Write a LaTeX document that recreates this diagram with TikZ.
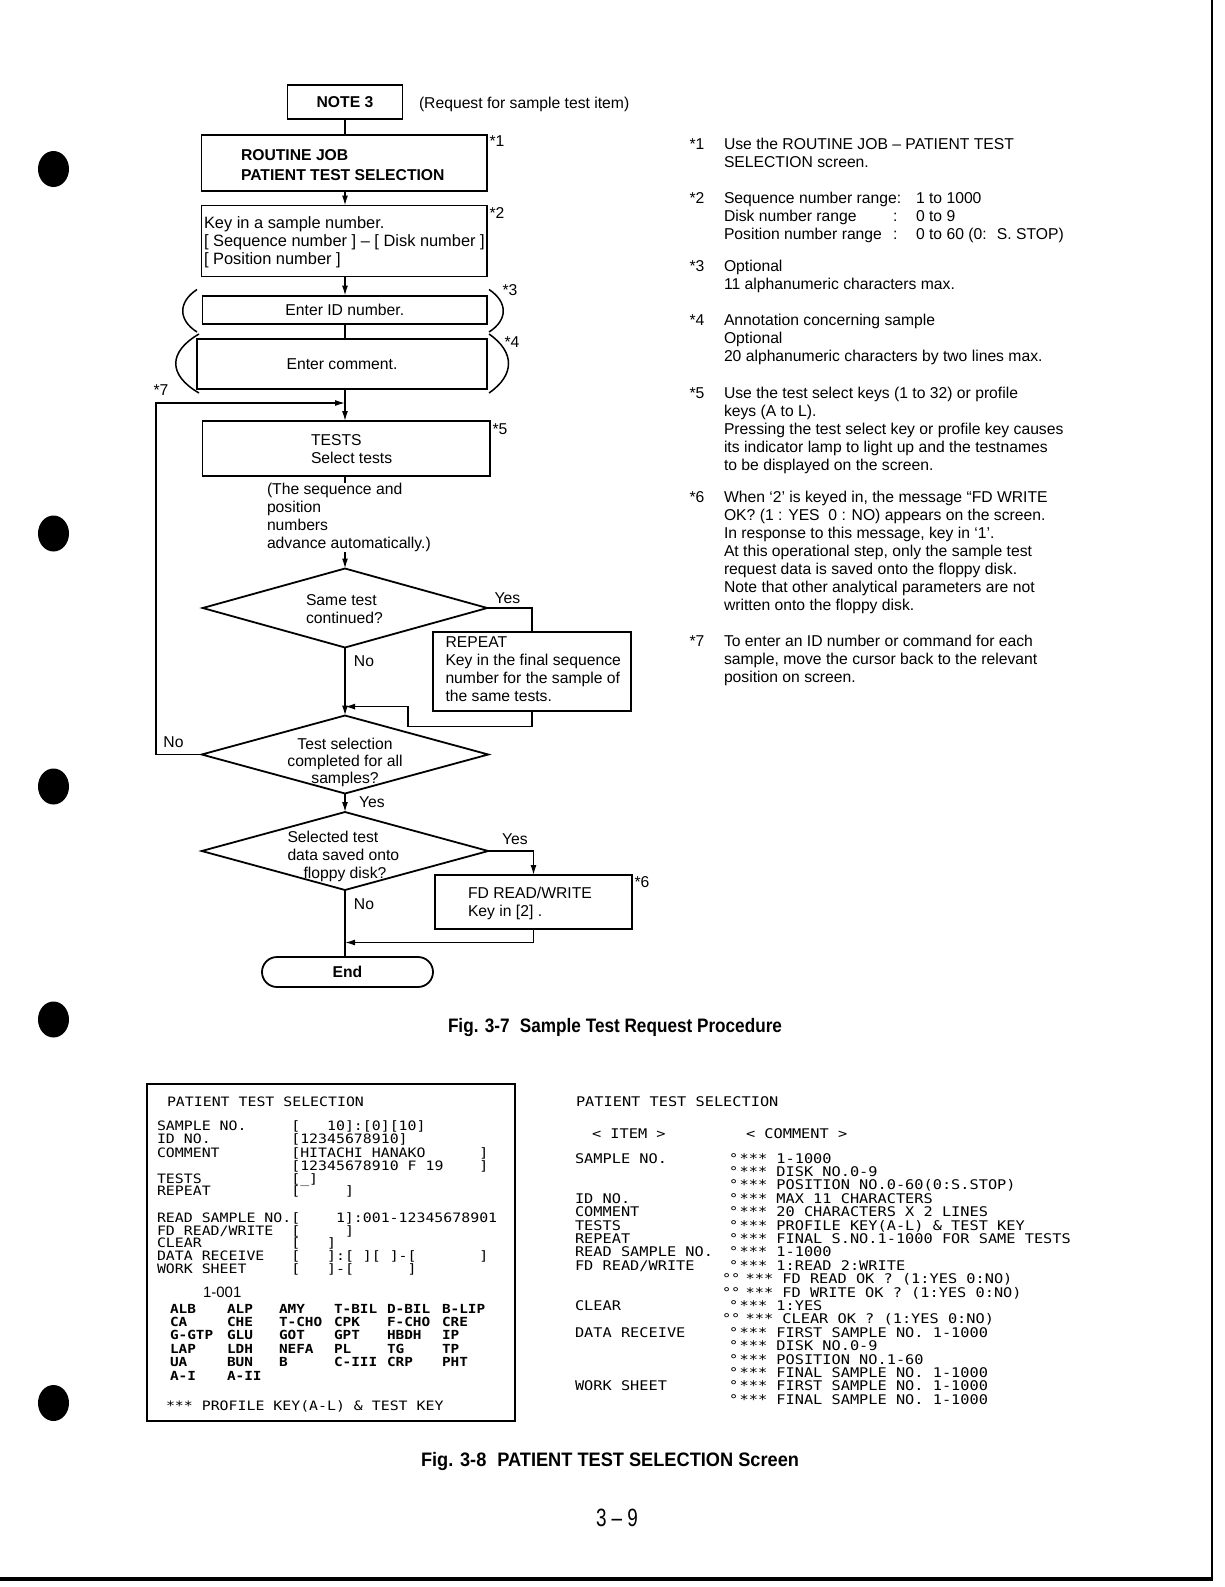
\documentclass[tikz,border=0pt]{standalone}
\usepackage{fontspec}
\usepackage{graphicx}
\setmainfont{Liberation Sans}
\newfontfamily\scrfont[FakeStretch=1.15]{DejaVu Sans Mono}
\usetikzlibrary{shapes.geometric,arrows.meta}
\newcommand\fst{\rule{0pt}{12pt}}
\begin{document}
\begin{tikzpicture}[x=1pt,y=-1pt,
  every node/.style={inner sep=0pt, outer sep=0pt},
  box/.style={draw, line width=1.8pt, rectangle},
  dia/.style={draw, line width=1.8pt, diamond},
  flow/.style={line width=1.4pt},
  arr/.style={line width=1.4pt, -{Latex[length=10pt,width=6pt]}},
  ft/.style={font=\fontsize{15.7}{18}\selectfont},
  bft/.style={font=\bfseries\fontsize{15.7}{20}\selectfont},
  tl/.style={ft, anchor=base west},
  ml/.style={ft, anchor=north west, align=left},
  lscr/.style={font=\scrfont\fontsize{12.93}{13}\selectfont, anchor=base west},
  rscr/.style={font=\scrfont\fontsize{13.29}{13}\selectfont, anchor=base west},
  gscr/.style={font=\scrfont\bfseries\fontsize{12.5}{13}\selectfont, anchor=base west},
  paren/.style={line width=1.5pt},
  capt/.style={font=\bfseries\fontsize{19.5}{21}\selectfont},
]
\useasboundingbox (0,0) rectangle (1224,1587);
\fill[white] (0,0) rectangle (1224,1587);

% ---------- page marks ----------
\fill (53.5,169) ellipse [x radius=15.5pt, y radius=18pt];
\fill (53.5,533.5) ellipse [x radius=15.5pt, y radius=18pt];
\fill (53.5,786.5) ellipse [x radius=15.5pt, y radius=18pt];
\fill (53.5,1019.5) ellipse [x radius=15.5pt, y radius=18pt];
\fill (53.5,1403) ellipse [x radius=15.5pt, y radius=18pt];
\draw[line width=2pt] (1212,0) -- (1212,1579);
\draw[line width=3.5pt] (0,1579) -- (1213,1579);

% ---------- flowchart ----------
\coordinate (tk) at (345,0);
\coordinate (j0) at (345,403);
\coordinate (lp) at (156,403);
\coordinate (j1) at (345,706.6);
\coordinate (j2) at (345,942.5);

\node[box, bft, minimum width=115pt, minimum height=34pt] (note) at (345,102) {NOTE 3};
\node[tl] (req) at (419,108.5) {(Request for sample test item)};

\node[box, minimum width=285.5pt, minimum height=56.7pt] (routine) at (344.3,163) {};
\node[bft, anchor=north west, align=left] (routinet) at (241,148.7) {\fst ROUTINE JOB\\PATIENT TEST SELECTION};

\node[box, minimum width=285.5pt, minimum height=71pt] (key) at (344.3,241) {};
\node[ml, font=\fontsize{16.4}{18}\selectfont] (keyt) at (204,216.5) {\fst Key in a sample number.\\{}[ Sequence number ] – [ Disk number ]\\{}[ Position number ]};

\node[box, ft, minimum width=284.5pt, minimum height=28.4pt] (id) at (344.8,309.8) {Enter ID number.};
\node[box, ft, minimum width=290pt, minimum height=50pt] (com) at (342,364) {Enter comment.};

\node[box, minimum width=287.5pt, minimum height=55pt] (tests) at (346.3,448.5) {};
\node[ml] (testst) at (311,433.5) {\fst TESTS\\Select tests};

\node[dia, minimum width=284.5pt, minimum height=79pt] (d1) at (345,608) {};
\node[dia, minimum width=286.5pt, minimum height=78pt] (d2) at (345,754.5) {};
\node[dia, minimum width=286.5pt, minimum height=78pt] (d3) at (345,851) {};

\node[box, minimum width=198pt, minimum height=79pt] (rep) at (532,671.5) {};
\node[box, minimum width=197pt, minimum height=54pt] (fd) at (533.5,902) {};
\node[draw, line width=1.8pt, rounded corners=15pt, minimum width=171pt, minimum height=30pt, bft] (end) at (347.5,972) {End};

% connectors
\draw[flow] (note.south) -- (note.south |- routine.north);
\draw[arr] (routine.south -| tk) -- (key.north -| tk);
\draw[arr] (key.south -| tk) -- (id.north -| tk);
\draw[flow] (id.south -| tk) -- (com.north -| tk);
\draw[arr] (com.south -| tk) -- (tests.north -| tk);
\draw[arr] (d2.west) -- (d2.west -| lp) -- (lp) -- (j0);
\draw[arr] (tests.south -| tk) -- (d1.north);
\draw[flow] (d1.east) -- (d1.east -| rep.north) -- (rep.north);
\draw[arr] (rep.south) -- ++(0,15.5) -- ++(-124,0) |- (j1);
\draw[arr] (d1.south) -- (d2.north);
\draw[arr] (d2.south) -- (d3.north);
\draw[arr] (d3.east) -- (d3.east -| fd.north) -- (fd.north);
\draw[flow] (d3.south) -- (d3.south |- end.north);
\draw[arr] (fd.south) |- (j2);

% texts over connectors
\node[ml, fill=white] (seqt) at (267,482.5) {\fst (The sequence and\\position\\numbers\\advance automatically.)};
\node[ml] (d1t) at (306,593.5) {\fst Same test\\continued?};
\node[ft, anchor=north, align=center, font=\fontsize{15.7}{17}\selectfont] (d2t) at (345,737.5) {\fst Test selection\\completed for all\\samples?};
\node[ml] (d3t) at (287.5,830.5) {\fst Selected test\\data saved onto\\\hspace*{16pt}floppy disk?};
\node[ml] (rept) at (445.5,635.5) {\fst REPEAT\\Key in the final sequence\\number for the sample of\\the same tests.};
\node[ml] (fdt) at (468,886.5) {\fst FD READ/WRITE\\Key in [2] .};

% parentheses
\draw[paren] (197,289.5) .. controls (178,302) and (178,320) .. (197,332);
\draw[paren] (489,289.5) .. controls (508,302) and (508,320) .. (489,332);
\draw[paren] (199,334) .. controls (168,352) and (168,375) .. (199,393);
\draw[paren] (489,334) .. controls (515,352) and (515,375) .. (489,393);

% star labels
\node[ft] (st1) at (497,141) {*1};
\node[ft] (st2) at (497,213) {*2};
\node[ft] (st3) at (510,290.5) {*3};
\node[ft] (st4) at (512,342) {*4};
\node[ft] (st5) at (500,429) {*5};
\node[ft] (st6) at (642,882) {*6};
\node[ft] (st7) at (161,390) {*7};

% yes / no
\node[ft] (y1) at (507.5,598) {Yes};
\node[ft] (n1) at (364,661) {No};
\node[ft] (n2) at (173.5,742) {No};
\node[ft] (y2) at (372,802) {Yes};
\node[ft] (y3) at (515,839) {Yes};
\node[ft] (n3) at (364,904) {No};

% ---------- notes ----------
\node[tl] (ns1) at (689.5,149.3) {*1};
\node[ml] (nt1) at (724,137.3) {\fst Use the ROUTINE JOB – PATIENT TEST\\SELECTION screen.};
\node[tl] (ns2) at (689.5,203.9) {*2};
\node[ml] (nt2a) at (724,191.9) {\fst Sequence number range:\\Disk number range\\Position number range};
\node[ml] (nt2b) at (893,191.9) {\fst\\:\\:};
\node[ml] (nt2c) at (916,191.9) {\fst 1 to 1000\\0 to 9\\0 to 60 (0:~ S. STOP)};
\node[tl] (ns3) at (689.5,271.8) {*3};
\node[ml] (nt3) at (724,259.8) {\fst Optional\\11 alphanumeric characters max.};
\node[tl] (ns4) at (689.5,325.4) {*4};
\node[ml] (nt4) at (724,313.4) {\fst Annotation concerning sample\\Optional\\20 alphanumeric characters by two lines max.};
\node[tl] (ns5) at (689.5,398.3) {*5};
\node[ml] (nt5) at (724,386.3) {\fst Use the test select keys (1 to 32) or profile\\keys (A to L).\\Pressing the test select key or profile key causes\\its indicator lamp to light up and the testnames\\to be displayed on the screen.};
\node[tl] (ns6) at (689.5,502.5) {*6};
\node[ml] (nt6) at (724,490.5) {\fst When ‘2’ is keyed in, the message “FD WRITE\\OK? (1 : YES~ 0 : NO) appears on the screen.\\In response to this message, key in ‘1’.\\At this operational step, only the sample test\\request data is saved onto the floppy disk.\\Note that other analytical parameters are not\\written onto the floppy disk.};
\node[tl] (ns7) at (689.5,646.3) {*7};
\node[ml] (nt7) at (724,634.3) {\fst To enter an ID number or command for each\\sample, move the cursor back to the relevant\\position on screen.};

% ---------- captions ----------
\node[capt] (cap1) at (615,1027) {\resizebox{334pt}{\height}{Fig. 3-7\hspace{0.6em}Sample Test Request Procedure}};
\node[capt] (cap2) at (610,1461) {\resizebox{378pt}{\height}{Fig. 3-8\hspace{0.6em}PATIENT TEST SELECTION Screen}};
\node[font=\fontsize{25}{26}\selectfont] (pg) at (617,1518) {\resizebox{42pt}{\height}{3 – 9}};

% ---------- left screen ----------
\node[draw, line width=1.6pt, minimum width=368pt, minimum height=337pt] (lbox) at (331,1252.5) {};
\node[lscr] (l0) at (167,1106) {PATIENT TEST SELECTION};
\node[lscr] (l1a) at (157,1130) {SAMPLE NO.};
\node[lscr] (l1b) at (291.3,1130) {[~~~10]:[0][10]};
\node[lscr] (l2a) at (157,1143) {ID NO.};
\node[lscr] (l2b) at (291.3,1143) {[12345678910]};
\node[lscr] (l3a) at (157,1157) {COMMENT};
\node[lscr] (l3b) at (291.3,1157) {[HITACHI HANAKO~~~~~~]};
\node[lscr] (l4b) at (291.3,1170) {[12345678910 F 19~~~~]};
\node[lscr] (l5a) at (157,1183) {TESTS};
\node[lscr] (l5b) at (291.3,1183) {[\_]};
\node[lscr] (l6a) at (157,1195) {REPEAT};
\node[lscr] (l6b) at (291.3,1195) {[~~~~~]};
\node[lscr] (l7) at (157,1222) {READ SAMPLE NO.[~~~~1]:001-12345678901};
\node[lscr] (l8a) at (157,1235) {FD READ/WRITE};
\node[lscr] (l8b) at (291.3,1235) {[~~~~~]};
\node[lscr] (l9a) at (157,1247) {CLEAR};
\node[lscr] (l9b) at (291.3,1247) {[~~~]};
\node[lscr] (l10a) at (157,1260) {DATA RECEIVE};
\node[lscr] (l10b) at (291.3,1260) {[~~~]:[~][~]-[~~~~~~~]};
\node[lscr] (l11a) at (157,1273) {WORK SHEET};
\node[lscr] (l11b) at (291.3,1273) {[~~~]-[~~~~~~]};
\node[font=\fontsize{15}{16}\selectfont, anchor=base west] (wsno) at (203,1297) {1-001};
\foreach \row [count=\r] in {{ALB,ALP,AMY,T-BIL,D-BIL,B-LIP},{CA,CHE,T-CHO,CPK,F-CHO,CRE},{G-GTP,GLU,GOT,GPT,HBDH,IP},{LAP,LDH,NEFA,PL,TG,TP},{UA,BUN,B,C-III,CRP,PHT},{A-I,A-II}}{
  \foreach \nm [count=\c] in \row {
    \pgfmathsetmacro\gx{{170,227,279,334,387,442}[\c-1]}
    \pgfmathsetmacro\gy{1313+13.4*(\r-1)}
    \node[gscr] (g\r-\c) at (\gx,\gy) {\nm};
  }
}
\node[lscr] (lpk) at (166,1410) {*** PROFILE KEY(A-L) \& TEST KEY};

% ---------- right screen ----------
\node[rscr] (r0) at (576,1106) {PATIENT TEST SELECTION};
\node[rscr] (r1) at (592,1138) {< ITEM >};
\node[rscr] (r2) at (746,1138) {< COMMENT >};
\node[rscr] (ra1) at (575,1163) {SAMPLE NO.};
\node[rscr] (ra2) at (575,1203.2) {ID NO.};
\node[rscr] (ra3) at (575,1216.6) {COMMENT};
\node[rscr] (ra4) at (575,1230) {TESTS};
\node[rscr] (ra5) at (575,1243.4) {REPEAT};
\node[rscr] (ra6) at (575,1256.8) {READ SAMPLE NO.};
\node[rscr] (ra7) at (575,1270.2) {FD READ/WRITE};
\node[rscr] (ra8) at (575,1310.4) {CLEAR};
\node[rscr] (ra9) at (575,1337.2) {DATA RECEIVE};
\node[rscr] (ra10) at (575,1390.8) {WORK SHEET};
\foreach \dg/\dx/\sx/\t [count=\i] in {
  °/729/739.6/{1-1000},
  °/729/739.6/{DISK NO.0-9},
  °/729/739.6/{POSITION NO.0-60(0:S.STOP)},
  °/729/739.6/{MAX 11 CHARACTERS},
  °/729/739.6/{20 CHARACTERS X 2 LINES},
  °/729/739.6/{PROFILE KEY(A-L) \& TEST KEY},
  °/729/739.6/{FINAL S.NO.1-1000 FOR SAME TESTS},
  °/729/739.6/{1-1000},
  °/729/739.6/{1:READ 2:WRITE},
  °°/722/745.6/{FD READ OK ? (1:YES 0:NO)},
  °°/722/745.6/{FD WRITE OK ? (1:YES 0:NO)},
  °/729/739.6/{1:YES},
  °°/722/745.6/{CLEAR OK ? (1:YES 0:NO)},
  °/729/739.6/{FIRST SAMPLE NO. 1-1000},
  °/729/739.6/{DISK NO.0-9},
  °/729/739.6/{POSITION NO.1-60},
  °/729/739.6/{FINAL SAMPLE NO. 1-1000},
  °/729/739.6/{FIRST SAMPLE NO. 1-1000},
  °/729/739.6/{FINAL SAMPLE NO. 1-1000}}{
  \pgfmathsetmacro\cy{1163+13.4*(\i-1)}
  \node[rscr] (rd\i) at (\dx,\cy) {\dg};
  \node[rscr] (rc\i) at (\sx,\cy) {*** \t};
}
\end{tikzpicture}
\end{document}
